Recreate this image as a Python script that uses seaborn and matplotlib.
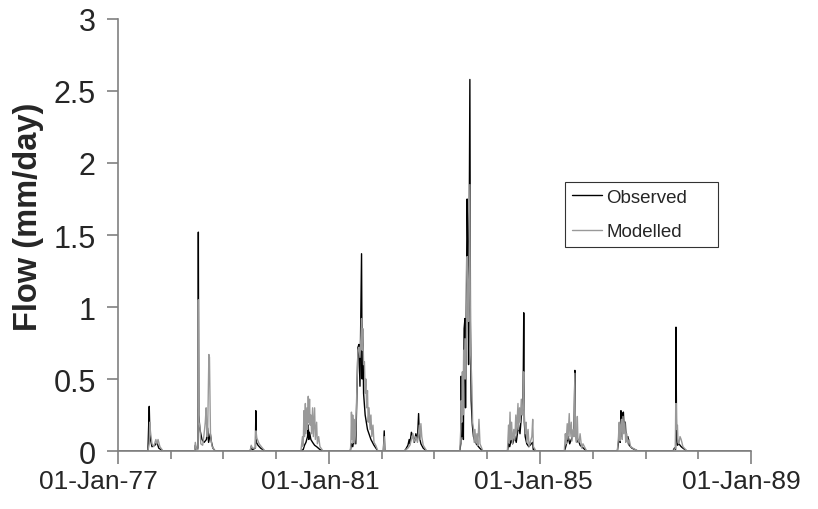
import numpy as np
import pandas as pd
import matplotlib
matplotlib.use("Agg")
import matplotlib.pyplot as plt
import matplotlib.dates as mdates
import matplotlib.transforms as mtransforms
import seaborn as sns

# ---------------- data ----------------
obs_dates = [
    "1977-01-01",
    "1977-07-27", "1977-08-05", "1977-08-09", "1977-08-14", "1977-08-24", "1977-09-13", "1977-09-27", "1977-10-10", "1977-11-08",
    "1978-06-15", "1978-06-20", "1978-06-28", "1978-07-08", "1978-07-11", "1978-07-14", "1978-07-22", "1978-08-05", "1978-08-20",
    "1978-09-05", "1978-09-13", "1978-09-20", "1978-10-02", "1978-10-10", "1978-10-20", "1978-11-05",
    "1979-07-05", "1979-07-12", "1979-07-20", "1979-08-10", "1979-08-13", "1979-08-17", "1979-08-28", "1979-09-15", "1979-10-15",
    "1980-06-20", "1980-07-06", "1980-07-15", "1980-07-25", "1980-08-05", "1980-08-10", "1980-08-14", "1980-08-19", "1980-08-28",
    "1980-09-09", "1980-09-23", "1980-10-07", "1980-10-30", "1980-11-20",
    "1981-05-28", "1981-06-05", "1981-06-14", "1981-06-22", "1981-07-05", "1981-07-20", "1981-07-27", "1981-08-03", "1981-08-14",
    "1981-08-18", "1981-08-23", "1981-08-28", "1981-09-08", "1981-09-24", "1981-10-18", "1981-11-08", "1981-12-05",
    "1982-01-12", "1982-01-18", "1982-01-22",
    "1982-06-05", "1982-06-15", "1982-07-01", "1982-07-10", "1982-07-15", "1982-07-25", "1982-08-05", "1982-08-15", "1982-08-25",
    "1982-09-05", "1982-09-13", "1982-09-18", "1982-09-29", "1982-10-15", "1982-11-08",
    "1983-06-25", "1983-07-02", "1983-07-05", "1983-07-09", "1983-07-15", "1983-07-20", "1983-07-25", "1983-07-31", "1983-08-04",
    "1983-08-15", "1983-08-20", "1983-08-25", "1983-09-03", "1983-09-07", "1983-09-12", "1983-09-20", "1983-09-28", "1983-10-10",
    "1983-10-25", "1983-11-10", "1983-12-02",
    "1984-05-20", "1984-05-28", "1984-06-05", "1984-06-15", "1984-06-25", "1984-07-10", "1984-07-20", "1984-08-05", "1984-08-15",
    "1984-08-25", "1984-09-05", "1984-09-10", "1984-09-14", "1984-09-20", "1984-10-01", "1984-10-15", "1984-11-10", "1984-11-15",
    "1984-12-04",
    "1985-06-18", "1985-06-25", "1985-07-05", "1985-07-15", "1985-07-25", "1985-08-05", "1985-08-14", "1985-08-24", "1985-08-30",
    "1985-09-03", "1985-09-12", "1985-09-22", "1985-10-05", "1985-10-16", "1985-11-19",
    "1986-06-20", "1986-06-28", "1986-07-05", "1986-07-10", "1986-07-15", "1986-07-20", "1986-07-26", "1986-08-01", "1986-08-06",
    "1986-08-14", "1986-08-20", "1986-09-01", "1986-09-10", "1986-09-29", "1986-11-09",
    "1987-07-10", "1987-07-20", "1987-07-28", "1987-07-31", "1987-08-04", "1987-08-10", "1987-08-20", "1987-09-05", "1987-09-17",
    "1987-10-15",
    "1988-12-31",
]
obs_vals = [
    0.0,
    0.0, 0.31, 0.14, 0.08, 0.03, 0.04, 0.06, 0.02, 0.0,
    0.0, 0.04, 0.01, 0.02, 1.52, 0.25, 0.15, 0.08, 0.06,
    0.08, 0.16, 0.06, 0.12, 0.06, 0.02, 0.0,
    0.0, 0.03, 0.01, 0.02, 0.28, 0.06, 0.04, 0.02, 0.0,
    0.0, 0.01, 0.04, 0.06, 0.10, 0.18, 0.08, 0.13, 0.08,
    0.06, 0.04, 0.03, 0.01, 0.0,
    0.0, 0.05, 0.03, 0.08, 0.05, 0.72, 0.74, 0.45, 1.37,
    0.50, 0.84, 0.40, 0.25, 0.15, 0.08, 0.04, 0.0,
    0.0, 0.14, 0.0,
    0.0, 0.01, 0.04, 0.08, 0.05, 0.13, 0.10, 0.06, 0.12,
    0.08, 0.26, 0.10, 0.05, 0.02, 0.0,
    0.0, 0.05, 0.52, 0.10, 0.40, 0.08, 0.85, 0.92, 0.30,
    1.75, 1.40, 0.60, 2.58, 0.90, 0.35, 0.18, 0.10, 0.06,
    0.04, 0.02, 0.0,
    0.0, 0.05, 0.03, 0.08, 0.05, 0.10, 0.06, 0.18, 0.12,
    0.25, 0.30, 0.96, 0.20, 0.10, 0.05, 0.03, 0.06, 0.01,
    0.0,
    0.0, 0.02, 0.06, 0.10, 0.05, 0.08, 0.10, 0.12, 0.56,
    0.15, 0.06, 0.08, 0.04, 0.03, 0.0,
    0.0, 0.06, 0.12, 0.06, 0.28, 0.10, 0.26, 0.27, 0.15,
    0.20, 0.08, 0.10, 0.04, 0.02, 0.0,
    0.0, 0.02, 0.01, 0.86, 0.10, 0.04, 0.05, 0.03, 0.02,
    0.0,
    0.0,
]

mod_dates = [
    "1977-01-01",
    "1977-07-27", "1977-08-05", "1977-08-08", "1977-08-14", "1977-08-24", "1977-09-05", "1977-09-20", "1977-09-27", "1977-10-05",
    "1977-10-18", "1977-11-08",
    "1978-06-15", "1978-06-20", "1978-06-28", "1978-07-08", "1978-07-11", "1978-07-13", "1978-07-16", "1978-07-22", "1978-07-28",
    "1978-08-10", "1978-08-20", "1978-08-28", "1978-09-03", "1978-09-08", "1978-09-13", "1978-09-22", "1978-09-26", "1978-10-03",
    "1978-10-08", "1978-10-15", "1978-11-03",
    "1979-07-05", "1979-07-12", "1979-07-20", "1979-08-10", "1979-08-14", "1979-08-20", "1979-08-28", "1979-09-05", "1979-09-20",
    "1979-10-15",
    "1980-06-20", "1980-07-01", "1980-07-06", "1980-07-11", "1980-07-15", "1980-07-21", "1980-07-25", "1980-08-01", "1980-08-05",
    "1980-08-10", "1980-08-14", "1980-08-19", "1980-08-23", "1980-08-28", "1980-09-02", "1980-09-09", "1980-09-14", "1980-09-23",
    "1980-09-28", "1980-10-07", "1980-10-12", "1980-10-21", "1980-10-30", "1980-11-20",
    "1981-05-28", "1981-06-01", "1981-06-05", "1981-06-09", "1981-06-14", "1981-06-18", "1981-06-22", "1981-06-27", "1981-07-05",
    "1981-07-13", "1981-07-20", "1981-07-27", "1981-08-03", "1981-08-10", "1981-08-14", "1981-08-18", "1981-08-23", "1981-08-28",
    "1981-09-03", "1981-09-08", "1981-09-13", "1981-09-18", "1981-09-24", "1981-09-29", "1981-10-05", "1981-10-12", "1981-10-18",
    "1981-10-24", "1981-11-01", "1981-11-08", "1981-11-20", "1981-12-05",
    "1982-01-12", "1982-01-18", "1982-01-22",
    "1982-06-05", "1982-07-01", "1982-07-15", "1982-07-25", "1982-08-05", "1982-08-10", "1982-08-25", "1982-09-05", "1982-09-18",
    "1982-09-24", "1982-09-29", "1982-10-05", "1982-10-15", "1982-11-08",
    "1983-06-25", "1983-07-02", "1983-07-05", "1983-07-09", "1983-07-13", "1983-07-17", "1983-07-22", "1983-07-26", "1983-07-31",
    "1983-08-05", "1983-08-10", "1983-08-15", "1983-08-20", "1983-08-25", "1983-09-03", "1983-09-07", "1983-09-12", "1983-09-17",
    "1983-09-22", "1983-09-28", "1983-10-03", "1983-10-08", "1983-10-15", "1983-10-22", "1983-10-28", "1983-11-05", "1983-11-12",
    "1983-11-20", "1983-12-02",
    "1984-05-20", "1984-05-28", "1984-06-01", "1984-06-07", "1984-06-12", "1984-06-18", "1984-06-24", "1984-07-03", "1984-07-10",
    "1984-07-17", "1984-07-22", "1984-08-01", "1984-08-05", "1984-08-12", "1984-08-17", "1984-08-24", "1984-08-30", "1984-09-05",
    "1984-09-10", "1984-09-14", "1984-09-20", "1984-09-26", "1984-10-02", "1984-10-10", "1984-10-17", "1984-11-05", "1984-11-11",
    "1984-11-16", "1984-12-04",
    "1985-06-18", "1985-06-25", "1985-06-30", "1985-07-08", "1985-07-13", "1985-07-22", "1985-07-27", "1985-08-05", "1985-08-10",
    "1985-08-18", "1985-08-24", "1985-08-30", "1985-09-03", "1985-09-10", "1985-09-16", "1985-09-20", "1985-09-28", "1985-10-05",
    "1985-10-16", "1985-10-25", "1985-11-19",
    "1986-06-20", "1986-06-28", "1986-07-03", "1986-07-08", "1986-07-13", "1986-07-19", "1986-07-24", "1986-07-29", "1986-08-04",
    "1986-08-11", "1986-08-17", "1986-08-24", "1986-09-01", "1986-09-10", "1986-09-20", "1986-10-05", "1986-11-09",
    "1987-07-10", "1987-07-20", "1987-07-28", "1987-07-31", "1987-08-04", "1987-08-10", "1987-08-14", "1987-08-20", "1987-08-28",
    "1987-09-05", "1987-09-17", "1987-10-15",
    "1988-12-31",
]
mod_vals = [
    0.0,
    0.0, 0.05, 0.20, 0.13, 0.05, 0.03, 0.08, 0.05, 0.08,
    0.03, 0.0,
    0.0, 0.06, 0.01, 0.01, 1.05, 0.30, 0.20, 0.16, 0.05,
    0.04, 0.12, 0.20, 0.30, 0.10, 0.10, 0.67, 0.65, 0.12,
    0.07, 0.03, 0.0,
    0.0, 0.04, 0.02, 0.02, 0.14, 0.09, 0.07, 0.05, 0.03,
    0.0,
    0.0, 0.10, 0.03, 0.28, 0.10, 0.33, 0.12, 0.30, 0.15,
    0.38, 0.20, 0.36, 0.18, 0.25, 0.12, 0.30, 0.10, 0.30,
    0.08, 0.20, 0.05, 0.10, 0.03, 0.0,
    0.0, 0.05, 0.27, 0.08, 0.25, 0.06, 0.22, 0.05, 0.15,
    0.45, 0.70, 0.72, 0.65, 0.80, 0.92, 0.70, 0.85, 0.60,
    0.62, 0.40, 0.50, 0.30, 0.42, 0.20, 0.30, 0.15, 0.25,
    0.10, 0.18, 0.06, 0.04, 0.0,
    0.0, 0.10, 0.0,
    0.0, 0.02, 0.04, 0.08, 0.12, 0.06, 0.10, 0.06, 0.18,
    0.08, 0.19, 0.10, 0.04, 0.0,
    0.0, 0.15, 0.35, 0.20, 0.55, 0.25, 0.70, 0.50, 0.78,
    0.50, 0.80, 1.35, 1.10, 0.90, 1.85, 0.70, 0.60, 0.45,
    0.20, 0.15, 0.06, 0.15, 0.05, 0.12, 0.04, 0.22, 0.05,
    0.03, 0.0,
    0.0, 0.18, 0.06, 0.27, 0.08, 0.20, 0.05, 0.15, 0.08,
    0.25, 0.12, 0.33, 0.15, 0.30, 0.20, 0.36, 0.25, 0.30,
    0.55, 0.25, 0.12, 0.20, 0.06, 0.15, 0.03, 0.10, 0.22,
    0.03, 0.0,
    0.0, 0.12, 0.05, 0.19, 0.08, 0.26, 0.10, 0.20, 0.07,
    0.15, 0.10, 0.54, 0.12, 0.06, 0.24, 0.08, 0.06, 0.12,
    0.02, 0.05, 0.0,
    0.0, 0.10, 0.20, 0.07, 0.18, 0.22, 0.08, 0.24, 0.12,
    0.20, 0.06, 0.12, 0.05, 0.08, 0.03, 0.02, 0.0,
    0.0, 0.01, 0.02, 0.33, 0.15, 0.18, 0.06, 0.05, 0.10,
    0.08, 0.03, 0.0,
    0.0,
]

series_names = ["Observed", "Modelled"]
series_colors = ["#000000", "#999999"]
x_major_dates = ["1977-01-01", "1981-01-01", "1985-01-01", "1989-01-01"]
y_ticks = [0, 0.5, 1, 1.5, 2, 2.5, 3]
y_label = "Flow (mm/day)"

# ---------------- build table ----------------
df = pd.concat([
    pd.DataFrame({"date": pd.to_datetime(obs_dates), "flow": obs_vals, "series": series_names[0]}),
    pd.DataFrame({"date": pd.to_datetime(mod_dates), "flow": mod_vals, "series": series_names[1]}),
], ignore_index=True)

sns.set_theme(style="white")
plt.rcParams["font.family"] = ["Liberation Sans", "DejaVu Sans"]

fig = plt.figure(figsize=(8.18, 5.10), dpi=100)
ax = fig.add_axes([0.1443, 0.1137, 0.7739, 0.8471])

sns.lineplot(data=df, x="date", y="flow", hue="series", hue_order=series_names,
             palette=dict(zip(series_names, series_colors)), estimator=None,
             sort=False, linewidth=1.0, ax=ax)

ax.set_xlim(pd.Timestamp("1977-01-01"), pd.Timestamp("1989-01-01"))
ax.set_ylim(0, 3)
ax.set_yticks(y_ticks)
ax.set_yticklabels([f"{v:g}" for v in y_ticks], fontsize=22)
ax.xaxis.set_major_locator(matplotlib.ticker.FixedLocator(mdates.date2num(pd.to_datetime(x_major_dates))))
ax.xaxis.set_minor_locator(mdates.YearLocator(1))
ax.xaxis.set_major_formatter(mdates.DateFormatter("%d-%b-%y"))
ax.set_xlabel("")
ax.set_ylabel(y_label, fontsize=23.5, fontweight="bold")
ax.yaxis.set_label_coords(-0.117, 0.545)

for s in ["top", "right"]:
    ax.spines[s].set_visible(False)
for s in ["left", "bottom"]:
    ax.spines[s].set_color("#808080")
    ax.spines[s].set_linewidth(1.2)
ax.tick_params(axis="y", which="major", direction="out", length=8, width=1.2, color="#808080", left=True, pad=8)
ax.tick_params(axis="x", which="major", direction="out", length=9, width=1.2, color="#808080", bottom=True, pad=4)
ax.tick_params(axis="x", which="minor", direction="out", length=6, width=1.2, color="#808080", bottom=True)
ax.grid(False)

fig.canvas.draw()
label_shift_px = [-20, -9, -7, -10]
for lab, dx in zip(ax.get_xticklabels(), label_shift_px):
    lab.set_fontsize(19)
    lab.set_transform(lab.get_transform() + mtransforms.ScaledTranslation(dx / 100, 0, fig.dpi_scale_trans))

leg = ax.legend(loc="upper left", bbox_to_anchor=(0.706, 0.523, 0.242, 0.1), mode="expand",
                borderaxespad=0, frameon=True, fancybox=False, fontsize=13.5,
                handlelength=1.65, handletextpad=0.2, labelspacing=0.95, borderpad=0.35)
leg.get_frame().set_edgecolor("#000000")
leg.get_frame().set_linewidth(0.8)
for line in leg.get_lines():
    line.set_linewidth(1.0)

fig.savefig("out.png", dpi=100)
